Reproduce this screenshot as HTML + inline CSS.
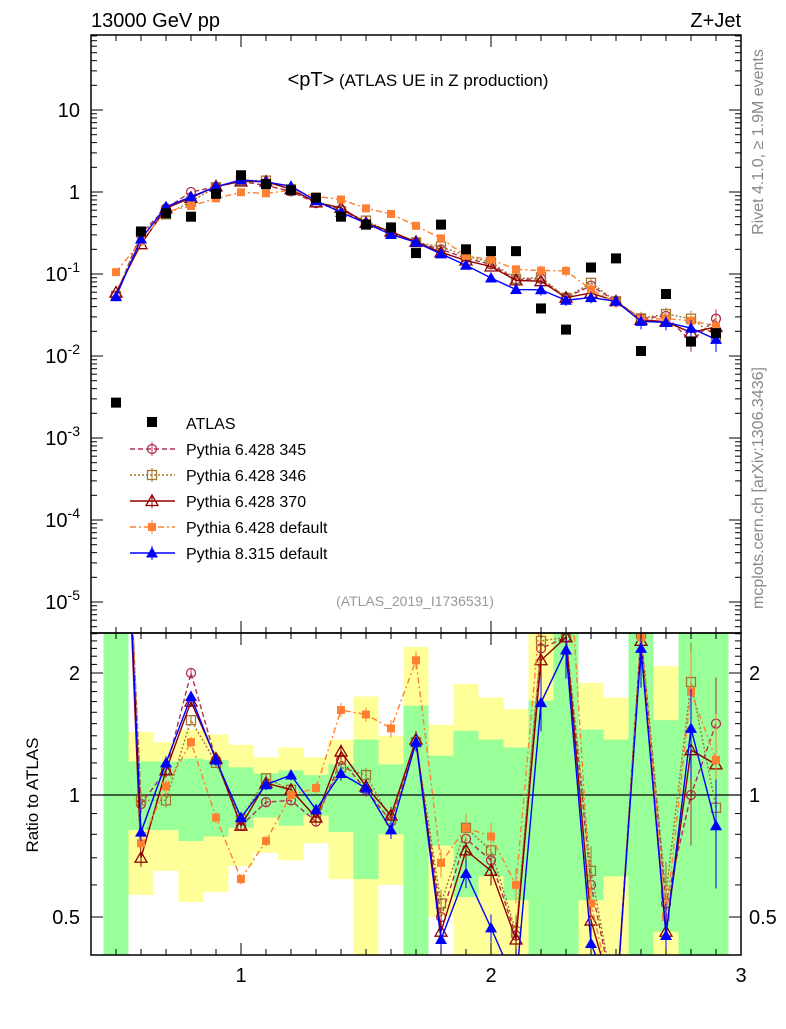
<!DOCTYPE html>
<html><head><meta charset="utf-8"><style>
body{margin:0;background:#fff;}
svg text{font-family:"Liberation Sans",sans-serif;}
</style></head><body>
<svg id="c" width="786" height="1024" xmlns="http://www.w3.org/2000/svg"></svg>
<script>
const xs=[0.5,0.6,0.7,0.8,0.9,1.0,1.1,1.2,1.3,1.4,1.5,1.6,1.7,1.8,1.9,2.0,2.1,2.2,2.3,2.4,2.5,2.6,2.7,2.8,2.9];
const atlas=[0.0027,0.33,0.55,0.5,0.95,1.6,1.25,1.05,0.85,0.5,0.4,0.37,0.18,0.4,0.2,0.19,0.19,0.038,0.021,0.12,0.155,0.0115,0.057,0.015,0.019];
const r345=[20,0.95,1.15,2.0,1.22,0.84,0.96,0.97,0.86,1.22,1.03,0.86,1.35,0.5,0.78,0.69,0.45,2.3,2.45,0.6,0.3,2.5,0.54,1.0,1.5];
const r346=[20,0.97,0.97,1.53,1.2,0.87,1.1,1.03,0.88,1.17,1.12,0.87,1.35,0.54,0.83,0.73,0.46,2.4,2.45,0.65,0.3,2.5,0.57,1.9,0.93];
const r370=[22,0.7,1.15,1.7,1.23,0.84,1.07,1.03,0.88,1.28,1.05,0.89,1.37,0.46,0.73,0.65,0.44,2.15,2.45,0.49,0.3,2.4,0.46,1.29,1.19];
const rdef=[39,0.76,1.05,1.35,0.88,0.62,0.77,1.0,1.04,1.62,1.58,1.46,2.15,0.68,0.83,0.79,0.6,2.9,5.2,0.54,0.29,2.45,0.5,1.8,1.22];
const rpy8=[19.6,0.81,1.2,1.75,1.22,0.88,1.06,1.12,0.92,1.13,1.04,0.82,1.35,0.44,0.64,0.47,0.34,1.69,2.28,0.43,0.3,2.3,0.45,1.46,0.84];
const yHi=[10,1.43,1.35,1.45,1.41,1.33,1.24,1.31,1.24,1.37,1.75,1.40,2.32,1.49,1.88,1.74,1.63,10,10,1.89,1.74,10,2.08,10,10];
const yLo=[0.1,0.567,0.65,0.545,0.576,0.668,0.72,0.69,0.76,0.62,0.1,0.60,0.1,0.50,0.1,0.1,0.1,0.1,0.1,0.1,0.1,0.1,0.1,0.1,0.1];
const gHi=[10,1.21,1.21,1.23,1.22,1.17,1.13,1.15,1.12,1.19,1.37,1.19,1.66,1.25,1.44,1.37,1.31,1.71,10,1.45,1.37,10,1.53,10,10];
const gLo=[0.1,0.82,0.82,0.77,0.79,0.83,0.88,0.84,0.89,0.81,0.62,0.80,0.1,0.75,0.56,0.63,0.55,0.1,0.1,0.55,0.63,0.1,0.46,0.1,0.1];
const relErr=[0.04,0.05,0.04,0.03,0.03,0.03,0.03,0.03,0.03,0.04,0.04,0.05,0.05,0.08,0.08,0.08,0.1,0.15,0.15,0.15,0.15,0.2,0.2,0.25,0.3];

const S=document.getElementById('c'),NS='http://www.w3.org/2000/svg';
function el(t,a,p){const e=document.createElementNS(NS,t);for(const k in a)e.setAttribute(k,a[k]);(p||S).appendChild(e);return e;}
const L=91,R=741,T=35,M=633,B=955;
const X=v=>L+(v-0.4)/2.6*(R-L);
const YT=v=>192-82*Math.log10(v);
const YR=v=>795-122*Math.log2(v);
const cl=(y,a,b)=>Math.max(a,Math.min(b,y));

const defs=el('defs',{});
const c1=el('clipPath',{id:'ct'},defs);el('rect',{x:L,y:T,width:R-L,height:M-T},c1);
const c2=el('clipPath',{id:'cr'},defs);el('rect',{x:L,y:M,width:R-L,height:B-M},c2);
const gT=el('g',{'clip-path':'url(#ct)'});
const gR=el('g',{'clip-path':'url(#cr)'});

xs.forEach((x,i)=>{
 const x0=X(x-0.05),x1=X(x+0.05);
 const yb=el('rect',{x:x0,y:cl(YR(yHi[i]),M,B),width:x1-x0,height:cl(YR(yLo[i]),M,B)-cl(YR(yHi[i]),M,B),fill:'#ffff99'},gR);
 
 const gb=el('rect',{x:x0,y:cl(YR(gHi[i]),M,B),width:x1-x0,height:cl(YR(gLo[i]),M,B)-cl(YR(gHi[i]),M,B),fill:'#99ff99'},gR);
 
});
el('line',{x1:L,x2:R,y1:YR(1),y2:YR(1),stroke:'#000','stroke-width':1.2},gR);

const series=[
 {r:r345,c:'#b03050',d:'5,3',m:'circ',name:'Pythia 6.428 345'},
 {r:r346,c:'#a07830',d:'2,2',m:'osq',name:'Pythia 6.428 346'},
 {r:r370,c:'#900000',d:'',m:'otri',name:'Pythia 6.428 370'},
 {r:rdef,c:'#ff8030',d:'6,3,2,3',m:'fsq',name:'Pythia 6.428 default'},
 {r:rpy8,c:'#0000ff',d:'',m:'ftri',name:'Pythia 8.315 default'}];
function marker(g,m,x,y,c){
 let e;
 if(m==='circ')e=el('circle',{cx:x,cy:y,r:4.5,fill:'none',stroke:c,'stroke-width':1.3},g);
 else if(m==='osq')e=el('rect',{x:x-4.5,y:y-4.5,width:9,height:9,fill:'none',stroke:c,'stroke-width':1.3},g);
 else if(m==='fsq')e=el('rect',{x:x-4,y:y-4,width:8,height:8,fill:c},g);
 else if(m==='otri')e=el('path',{d:`M${x},${y-6}L${x+6},${y+4.5}L${x-6},${y+4.5}Z`,fill:'none',stroke:c,'stroke-width':1.3},g);
 else if(m==='ftri')e=el('path',{d:`M${x},${y-6}L${x+6},${y+4.5}L${x-6},${y+4.5}Z`,fill:c},g);
 else if(m==='bsq')e=el('rect',{x:x-5,y:y-5,width:10,height:10,fill:'#000'},g);
 return e;
}
series.forEach((s,si)=>{
 const vals=s.r.map((r,i)=>r*atlas[i]);
 [[gT,vals,YT],[gR,s.r,YR]].forEach(([g,v,Y])=>{
  const p=el('polyline',{points:xs.map((x,i)=>X(x)+','+Y(v[i])).join(' '),fill:'none',stroke:s.c,'stroke-width':1.4,'stroke-dasharray':s.d},g);
  
  xs.forEach((x,i)=>{
   const e=relErr[i];
   el('line',{x1:X(x),x2:X(x),y1:Y(v[i]*(1+e)),y2:Y(v[i]*(1-e)),stroke:s.c,'stroke-width':1},g);
   const mk=marker(g,s.m,X(x),Y(v[i]),s.c);
   
  });
 });
});
xs.forEach((x,i)=>{const mk=marker(gT,'bsq',X(x),YT(atlas[i]));
 });

el('rect',{x:L,y:T,width:R-L,height:M-T,fill:'none',stroke:'#000','stroke-width':1.5});
el('rect',{x:L,y:M,width:R-L,height:B-M,fill:'none',stroke:'#000','stroke-width':1.5});
for(let k=4;k<=30;k++){const v=k/10,x=X(v),big=k%10===0,len=big?12:6;
 [T,M].forEach(y=>el('line',{x1:x,x2:x,y1:y,y2:y+len,stroke:'#000'}));
 [M,B].forEach(y=>el('line',{x1:x,x2:x,y1:y,y2:y-len,stroke:'#000'}));
 if(big){const t=el('text',{x:x,y:982,'font-size':20,'text-anchor':'middle'});t.textContent=v;
  }}
const topLabels=['10','1','10^-1','10^-2','10^-3','10^-4','10^-5'];
for(let e=-6;e<=1;e++)for(let m=1;m<10;m++){const v=m*Math.pow(10,e),y=YT(v);if(y<T||y>M)continue;
 const len=m===1?12:6;el('line',{x1:L,x2:L+len,y1:y,y2:y,stroke:'#000'});el('line',{x1:R,x2:R-len,y1:y,y2:y,stroke:'#000'});}
topLabels.forEach((lab,i)=>{const y=YT(Math.pow(10,1-i));const t=el('text',{x:80,y:y+7,'font-size':20,'text-anchor':'end'});
 
 if(lab.includes('^')){const[a,b]=lab.split('^');t.textContent=a;const ts=el('tspan',{dy:-9,'font-size':14},t);ts.textContent=b;}else t.textContent=lab;});
for(let k=4;k<=25;k++){const v=k/10,y=YR(v);if(y<M||y>B)continue;const big=(k===5||k===10||k===20);const len=big?12:6;
 el('line',{x1:L,x2:L+len,y1:y,y2:y,stroke:'#000'});el('line',{x1:R,x2:R-len,y1:y,y2:y,stroke:'#000'});
 if(big){const lab=v===1?'1':String(v);
  const t1=el('text',{x:80,y:y+7,'font-size':20,'text-anchor':'end'});t1.textContent=lab;
  
  const t2=el('text',{x:749,y:y+7,'font-size':20});t2.textContent=lab;
  }}
function txt(x,y,s,str,attrs,name){const t=el('text',Object.assign({x:x,y:y,'font-size':s},attrs||{}));t.textContent=str;
 return t;}
txt(91,27,20,'13000 GeV pp',{},'process-label');
txt(741,27,20,'Z+Jet',{'text-anchor':'end'},'analysis-label');
const tt=txt(418,86,20,'<pT>',{'text-anchor':'middle'},'plot-title');
const ts2=el('tspan',{'font-size':17},tt);ts2.textContent=' (ATLAS UE in Z production)';
txt(415,606,14,'(ATLAS_2019_I1736531)',{'text-anchor':'middle',fill:'#999'},'analysis-id');
txt(0,0,17,'Ratio to ATLAS',{transform:'translate(38,795) rotate(-90)','text-anchor':'middle'},'ratio-axis-title');
txt(0,0,16,'Rivet 4.1.0, \u2265 1.9M events',{transform:'translate(763,142) rotate(-90)','text-anchor':'middle',fill:'#888'},'rivet-label');
txt(0,0,16,'mcplots.cern.ch [arXiv:1306.3436]',{transform:'translate(763,488) rotate(-90)','text-anchor':'middle',fill:'#888'},'mcplots-label');
const lg=el('g',{});
marker(lg,'bsq',152,422);txt(186,429,16,'ATLAS',{},'legend-entry');
series.forEach((s,i)=>{const y=449+i*26;
 el('line',{x1:130,x2:175,y1:y,y2:y,stroke:s.c,'stroke-width':1.4,'stroke-dasharray':s.d},lg);
 el('line',{x1:152,x2:152,y1:y-7,y2:y+7,stroke:s.c},lg);
 marker(lg,s.m,152,y,s.c);txt(186,y+6,16,s.name,{},'legend-entry');});
</script>
</body></html>
